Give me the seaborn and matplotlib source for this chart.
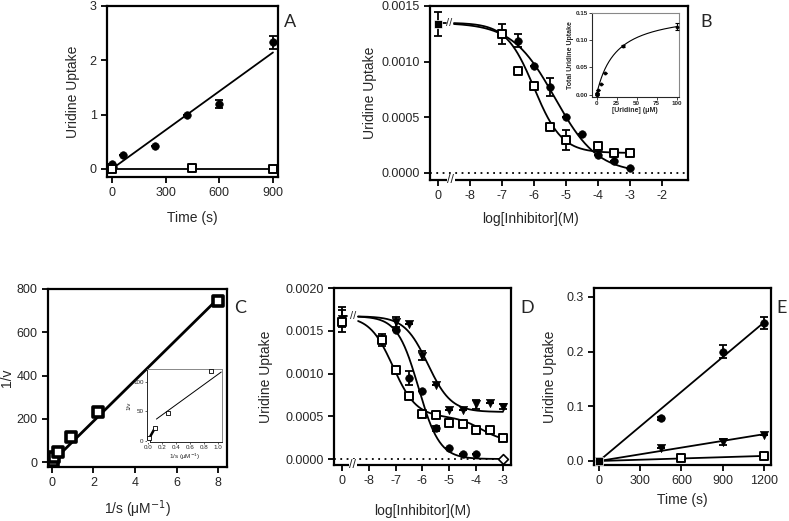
import numpy as np
import pandas as pd
import matplotlib
matplotlib.use('Agg')
import matplotlib.pyplot as plt
import seaborn as sns

sns.set_style('ticks')
plt.rcParams['font.family'] = ['Liberation Sans', 'DejaVu Sans']
plt.rcParams['axes.unicode_minus'] = False

# ---------------- data ----------------
# A: uptake vs time
a_t_ctl = [0, 5, 60, 240, 420, 600, 900]
a_y_ctl = [0.08, 0.03, 0.25, 0.42, 1.0, 1.2, 2.33]
a_e_ctl = [0, 0, 0, 0, 0, 0.07, 0.12]
a_t_inh = [0, 450, 900]
a_y_inh = [0.0, 0.02, 0.0]

# B: inhibition curves (x = log[Inhibitor]; -9 stands for the "0" point)
b_x_circ = [-9, -6.5, -6, -5.5, -5, -4.5, -4, -3.5, -3]
b_y_circ = [0.00134, 0.00119, 0.00096, 0.00077, 0.00050, 0.00035, 0.00016, 0.00011, 0.000045]
b_e_circ = [0.00011, 0.00006, 0, 0.00008, 0, 0, 0, 0, 0]
b_x_sq = [-7, -6.5, -6, -5.5, -5, -4, -3.5, -3]
b_y_sq = [0.00125, 0.00092, 0.00078, 0.00041, 0.00030, 0.00024, 0.00018, 0.00018]
b_e_sq = [0.00009, 0, 0, 0, 0.00009, 0, 0, 0]
b_fit_circ = dict(top=0.00135, bottom=0.0, logic50=-5.35, hill=0.65)
b_fit_sq = dict(top=0.00135, bottom=0.00018, logic50=-6.0, hill=1.0)

# B inset: total uptake vs [uridine]
bi_s = [0, 0.5, 1, 2, 5, 10, 33, 100]
bi_v = [0.0, 0.002, 0.004, 0.008, 0.02, 0.04, 0.09, 0.125]
bi_e = [0, 0, 0, 0, 0, 0, 0.002, 0.006]
bi_vmax, bi_km = 0.155, 24

# C: double reciprocal
c_x = [0.01, 0.03, 0.1, 0.28, 0.9, 2.2, 8.0]
c_y = [2, 6, 22, 47, 116, 230, 745]
ci_x = [0.0, 0.02, 0.1, 0.28, 0.9]
ci_y = [0, 5, 22, 47, 118]
ci_line_x = [0.12, 1.05]
ci_line_y = [37, 117]

# D: inhibition curves, three inhibitors
d_x_circ = [-9, -7, -6.5, -6, -5.5, -5, -4.5, -4]
d_y_circ = [0.00163, 0.00151, 0.00095, 0.00079, 0.00036, 0.00013, 0.000055, 0.000055]
d_e_circ = [0.00015, 0, 0.00008, 0, 0.00003, 0, 0, 0]
d_x_tri = [-9, -7, -6.5, -6, -5.5, -5, -4.5, -4, -3.5, -3]
d_y_tri = [0.00164, 0.00160, 0.00158, 0.00121, 0.00086, 0.00057, 0.00057, 0.00064, 0.00065, 0.00061]
d_e_tri = [0.0001, 0.00006, 0, 0.00005, 0, 0, 0, 0.00005, 0, 0.00003]
d_x_sq = [-9, -7.5, -7, -6.5, -6, -5.5, -5, -4.5, -4, -3.5, -3]
d_y_sq = [0.00160, 0.00139, 0.00104, 0.00074, 0.00053, 0.00052, 0.00042, 0.00041, 0.00034, 0.00034, 0.00024]
d_e_sq = [0, 0.00007, 0, 0, 0, 0, 0, 0, 0, 0, 0.00003]
d_x_dia = [-3]
d_y_dia = [0.0]
d_fit_tri = dict(top=0.00167, bottom=0.00055, logic50=-5.8, hill=1.0)
d_fit_circ = dict(top=0.00167, bottom=0.0, logic50=-6.15, hill=1.1)
d_fit_sq = dict(top=0.00167, bottom=0.0002, frac=0.8, logic1=-7.1, logic2=-3.8)

# E: uptake vs time
e_t_circ = [0, 450, 900, 1200]
e_y_circ = [0.0, 0.078, 0.20, 0.252]
e_e_circ = [0, 0.003, 0.011, 0.011]
e_t_tri = [0, 450, 900, 1200]
e_y_tri = [0.0, 0.0245, 0.035, 0.048]
e_e_tri = [0, 0, 0.006, 0]
e_t_sq = [0, 600, 1200]
e_y_sq = [0.0, 0.006, 0.0086]

log_ticks = [-9, -8, -7, -6, -5, -4, -3, -2]
log_labels = ['0', '-8', '-7', '-6', '-5', '-4', '-3', '-2']


def sigmoid(x, top, bottom, logic50, hill):
    return bottom + (top - bottom) / (1 + 10 ** ((x - logic50) * hill))


def two_site(x, top, bottom, frac, logic1, logic2):
    return bottom + (top - bottom) * (frac / (1 + 10 ** (x - logic1)) +
                                      (1 - frac) / (1 + 10 ** (x - logic2)))


def origin_slope(x, y):
    x = np.asarray(x, float)
    y = np.asarray(y, float)
    return (x * y).sum() / (x * x).sum()


def style(ax, lw=1.6):
    for sp in ax.spines.values():
        sp.set_linewidth(lw)
        sp.set_color('black')
    ax.tick_params(width=1.3, length=4, labelsize=9, color='black')


def dots(ax, x, y, **kw):
    sns.scatterplot(x=x, y=y, marker='o', color='black', edgecolor='black',
                    s=kw.pop('s', 30), ax=ax, zorder=4, **kw)


def squares(ax, x, y, s=40, lw=1.4):
    sns.scatterplot(x=x, y=y, marker='s', color='white', edgecolor='black',
                    linewidth=lw, s=s, ax=ax, zorder=5)


def tris(ax, x, y):
    sns.scatterplot(x=x, y=y, marker='v', color='black', edgecolor='black',
                    s=35, ax=ax, zorder=4)


def ebars(ax, x, y, e, cap=3, lw=1.3):
    ax.errorbar(x, y, yerr=e, fmt='none', ecolor='black', elinewidth=lw,
                capsize=cap, capthick=lw, zorder=3)


def line(ax, x, y, lw=1.3, **kw):
    sns.lineplot(x=x, y=y, color='black', lw=lw, ax=ax, sort=False, zorder=2, **kw)


fig = plt.figure(figsize=(7.89, 5.21), dpi=100)

# ---------------- A ----------------
axA = fig.add_axes([0.1356, 0.6603, 0.2167, 0.3282])
ka = origin_slope(a_t_ctl, a_y_ctl)
tt = np.array([0, 900])
line(axA, tt, ka * tt)
line(axA, [0, 900], [0, 0])
ebars(axA, a_t_ctl, a_y_ctl, a_e_ctl)
dots(axA, a_t_ctl, a_y_ctl)
squares(axA, a_t_inh, a_y_inh)
axA.set_xlim(-28, 928)
axA.set_ylim(-0.15, 3.0)
axA.set_xticks([0, 300, 600, 900])
axA.set_yticks([0, 1, 2, 3])
axA.set_xlabel('Time (s)', fontsize=10)
axA.set_ylabel('Uridine Uptake', fontsize=10)
axA.xaxis.set_label_coords(0.5, -0.2)
axA.yaxis.set_label_coords(-0.158, 0.5)
style(axA)

# ---------------- B ----------------
axB = fig.add_axes([0.545, 0.6545, 0.327, 0.334])
xx = np.linspace(-8.5, -3, 200)
line(axB, xx, sigmoid(xx, **b_fit_circ))
line(axB, xx, sigmoid(xx, **b_fit_sq))
line(axB, [-9, -8.75], [b_fit_sq['top']] * 2)
axB.axhline(0, color='black', lw=1.3, ls=(0, (1, 2.5)), zorder=1)
ebars(axB, b_x_circ, b_y_circ, b_e_circ)
ebars(axB, b_x_sq, b_y_sq, b_e_sq)
dots(axB, b_x_circ[1:], b_y_circ[1:])
squares(axB, b_x_sq, b_y_sq)
sns.scatterplot(x=b_x_circ[:1], y=b_y_circ[:1], marker='s', color='black',
                s=40, ax=axB, zorder=5)
axB.text(-8.65, b_fit_sq['top'], '//', ha='center', va='center', fontsize=8)
axB.text(-8.6, -0.000063, '//', ha='center', va='center', fontsize=9,
         clip_on=False, bbox=dict(fc='white', ec='none', pad=0.3))
axB.set_xlim(-9.25, -1.19)
axB.set_ylim(-0.000063, 0.0015)
axB.set_xticks(log_ticks)
axB.set_xticklabels(log_labels)
axB.set_yticks([0, 0.0005, 0.001, 0.0015])
axB.set_yticklabels(['0.0000', '0.0005', '0.0010', '0.0015'])
axB.set_xlabel('log[Inhibitor](M)', fontsize=10)
axB.set_ylabel('Uridine Uptake', fontsize=10)
axB.xaxis.set_label_coords(0.388, -0.185)
axB.yaxis.set_label_coords(-0.205, 0.5)
style(axB)

# B inset
axBi = fig.add_axes([0.750, 0.814, 0.110, 0.161])
ss = np.linspace(0, 100, 200)
line(axBi, ss, bi_vmax * ss / (bi_km + ss), lw=0.8)
ebars(axBi, bi_s, bi_v, bi_e, cap=1.5, lw=0.8)
dots(axBi, bi_s, bi_v, s=6)
axBi.set_xlim(-6, 102.5)
axBi.set_ylim(-0.004, 0.15)
axBi.set_xticks([0, 25, 50, 75, 100])
axBi.set_yticks([0, 0.05, 0.10, 0.15])
axBi.set_yticklabels(['0.00', '0.05', '0.10', '0.15'])
axBi.set_xlabel('[Uridine] (\u03bcM)', fontsize=5, fontweight='bold', labelpad=1)
axBi.set_ylabel('Total Uridine Uptake', fontsize=5, fontweight='bold', labelpad=1)
for sp in axBi.spines.values():
    sp.set_linewidth(0.8)
axBi.spines['top'].set_color('#888888')
axBi.spines['right'].set_color('#888888')
axBi.tick_params(width=0.6, length=2, labelsize=4.5, pad=1)
for lab in axBi.get_xticklabels() + axBi.get_yticklabels():
    lab.set_fontweight('bold')

# ---------------- C ----------------
axC = fig.add_axes([0.0608, 0.1036, 0.2269, 0.3417])
kc = origin_slope(c_x, c_y)
xc = np.array([0, 8])
line(axC, xc, kc * xc, lw=2.0)
squares(axC, c_x, c_y, s=55, lw=2.6)
axC.set_xlim(-0.19, 8.43)
axC.set_ylim(-23, 800)
axC.set_xticks([0, 2, 4, 6, 8])
axC.set_yticks([0, 200, 400, 600, 800])
axC.set_xlabel('1/s (\u03bcM$^{-1}$)', fontsize=10)
axC.set_ylabel('1/v', fontsize=10)
axC.xaxis.set_label_coords(0.5, -0.175)
axC.yaxis.set_label_coords(-0.19, 0.5)
style(axC)

# C inset
axCi = fig.add_axes([0.1863, 0.1516, 0.095, 0.140])
line(axCi, ci_x[:3], ci_y[:3], lw=1.8)
line(axCi, ci_line_x, ci_line_y, lw=0.7)
squares(axCi, ci_x, ci_y, s=8, lw=0.6)
axCi.set_xlim(-0.015, 1.06)
axCi.set_ylim(-2, 122)
axCi.set_xticks([0, 0.2, 0.4, 0.6, 0.8, 1.0])
axCi.set_xticklabels(['0.0', '0.2', '0.4', '0.6', '0.8', '1.0'])
axCi.set_yticks([0, 50, 100])
axCi.set_xlabel('1/s (\u03bcM$^{-1}$)', fontsize=4.5, labelpad=1)
axCi.set_ylabel('1/v', fontsize=4.5, labelpad=1)
for sp in axCi.spines.values():
    sp.set_linewidth(0.7)
axCi.spines['top'].set_color('#888888')
axCi.spines['right'].set_color('#888888')
axCi.tick_params(width=0.5, length=1.5, labelsize=4.5, pad=1)

# ---------------- D ----------------
axD = fig.add_axes([0.4233, 0.1075, 0.2243, 0.3397])
xd = np.linspace(-8.4, -3, 200)
line(axD, xd, sigmoid(xd, **d_fit_tri))
line(axD, xd, sigmoid(xd, **d_fit_circ))
line(axD, xd, two_site(xd, **d_fit_sq))
line(axD, [-9, -8.8], [d_fit_tri['top']] * 2)
axD.axhline(0, color='black', lw=1.3, ls=(0, (1, 2.5)), zorder=1)
ebars(axD, d_x_circ, d_y_circ, d_e_circ)
ebars(axD, d_x_tri, d_y_tri, d_e_tri)
ebars(axD, d_x_sq, d_y_sq, d_e_sq)
dots(axD, d_x_circ, d_y_circ)
tris(axD, d_x_tri, d_y_tri)
squares(axD, d_x_sq, d_y_sq)
sns.scatterplot(x=d_x_dia, y=d_y_dia, marker='D', color='white', edgecolor='black',
                linewidth=1.2, s=25, ax=axD, zorder=5, clip_on=False)
axD.text(-8.6, d_fit_tri['top'], '//', ha='center', va='center', fontsize=8)
axD.text(-8.6, -0.00007, '//', ha='center', va='center', fontsize=9,
         clip_on=False, bbox=dict(fc='white', ec='none', pad=0.3))
axD.set_xlim(-9.3, -2.7)
axD.set_ylim(-0.00007, 0.002)
axD.set_xticks(log_ticks[:-1])
axD.set_xticklabels(log_labels[:-1])
axD.set_yticks([0, 0.0005, 0.001, 0.0015, 0.002])
axD.set_yticklabels(['0.0000', '0.0005', '0.0010', '0.0015', '0.0020'])
axD.set_xlabel('log[Inhibitor](M)', fontsize=10)
axD.set_ylabel('Uridine Uptake', fontsize=10)
axD.xaxis.set_label_coords(0.5, -0.22)
axD.yaxis.set_label_coords(-0.345, 0.5)
style(axD)

# ---------------- E ----------------
axE = fig.add_axes([0.7529, 0.1075, 0.2243, 0.3397])
te = np.array([0, 1200])
line(axE, te, origin_slope(e_t_circ, e_y_circ) * te)
line(axE, te, origin_slope(e_t_tri, e_y_tri) * te)
line(axE, te, origin_slope(e_t_sq, e_y_sq) * te)
ebars(axE, e_t_circ, e_y_circ, e_e_circ)
ebars(axE, e_t_tri, e_y_tri, e_e_tri)
dots(axE, e_t_circ, e_y_circ)
tris(axE, e_t_tri, e_y_tri)
squares(axE, e_t_sq[1:], e_y_sq[1:])
sns.scatterplot(x=e_t_sq[:1], y=e_y_sq[:1], marker='s', color='black', s=40,
                ax=axE, zorder=5)
axE.set_xlim(-36, 1251)
axE.set_ylim(-0.0073, 0.316)
axE.set_xticks([0, 300, 600, 900, 1200])
axE.set_yticks([0, 0.1, 0.2, 0.3])
axE.set_yticklabels(['0.0', '0.1', '0.2', '0.3'])
axE.set_xlabel('Time (s)', fontsize=10)
axE.set_ylabel('Uridine Uptake', fontsize=10)
axE.xaxis.set_label_coords(0.5, -0.158)
axE.yaxis.set_label_coords(-0.209, 0.5)
style(axE)

# panel letters
for lab, px, py in [('A', 290, 22), ('B', 706, 22), ('C', 240, 308),
                    ('D', 527, 308), ('E', 782, 308)]:
    fig.text(px / 789, 1 - py / 521, lab, ha='center', va='center',
             fontsize=13, family=['Lato', 'DejaVu Sans'])

fig.savefig('out.png', dpi=100)
